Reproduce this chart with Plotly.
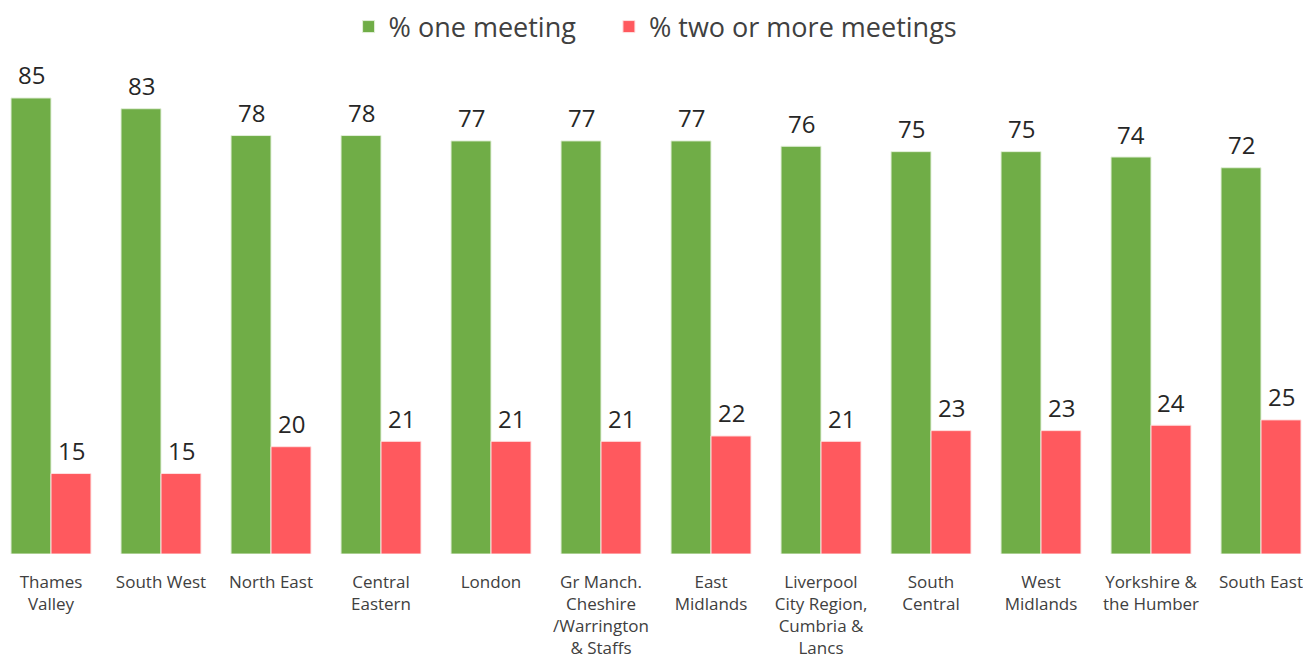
import plotly.graph_objects as go

categories = ["Thames<br>Valley", "South West", "North East", "Central<br>Eastern", "London",
              "Gr Manch.<br>Cheshire<br>/Warrington<br>& Staffs", "East<br>Midlands",
              "Liverpool<br>City Region,<br>Cumbria &<br>Lancs", "South<br>Central", "West<br>Midlands",
              "Yorkshire &<br>the Humber", "South East"]
one_meeting = [85, 83, 78, 78, 77, 77, 77, 76, 75, 75, 74, 72]
two_or_more = [15, 15, 20, 21, 21, 21, 22, 21, 23, 23, 24, 25]

FONT = "Open Sans"
fig = go.Figure()
fig.add_trace(go.Bar(
    x=categories, y=one_meeting, name="% one meeting\u00a0\u00a0\u00a0\u00a0",
    marker=dict(color="#70AD47", line=dict(color="#E2EFD9", width=1)),
))
fig.add_trace(go.Bar(
    x=categories, y=two_or_more, name="% two or more meetings",
    marker=dict(color="#FF595E", line=dict(color="#FFE0E0", width=1)),
))

# value labels above each bar
for cat, v1, v2 in zip(categories, one_meeting, two_or_more):
    for val, dx in ((v1, -20), (v2, 20)):
        fig.add_annotation(x=cat, y=val, text=str(val), showarrow=False,
                           xshift=dx, yshift=23, yanchor="middle", xanchor="center",
                           font=dict(family=FONT, size=24, color="#262626"))

fig.update_layout(
    width=1303, height=656,
    paper_bgcolor="white", plot_bgcolor="white",
    barmode="group", bargap=0.273, bargroupgap=0,
    margin=dict(l=0, r=0, t=52, b=110, autoexpand=False),
    font=dict(family=FONT, color="#404040"),
    legend=dict(orientation="h", x=0.497, xanchor="center",
                yref="container", y=0.971, yanchor="middle",
                font=dict(family=FONT, size=27, color="#404040"),
                itemwidth=30, traceorder="normal"),
    xaxis=dict(range=[-0.3909, 11.4545], showgrid=False, showline=False, zeroline=False,
               tickfont=dict(family=FONT, size=17, color="#404040"), ticks="",
               ticklabelstandoff=16),
    yaxis=dict(range=[0, 92.08], visible=False),
)
fig.write_html("out.html")
